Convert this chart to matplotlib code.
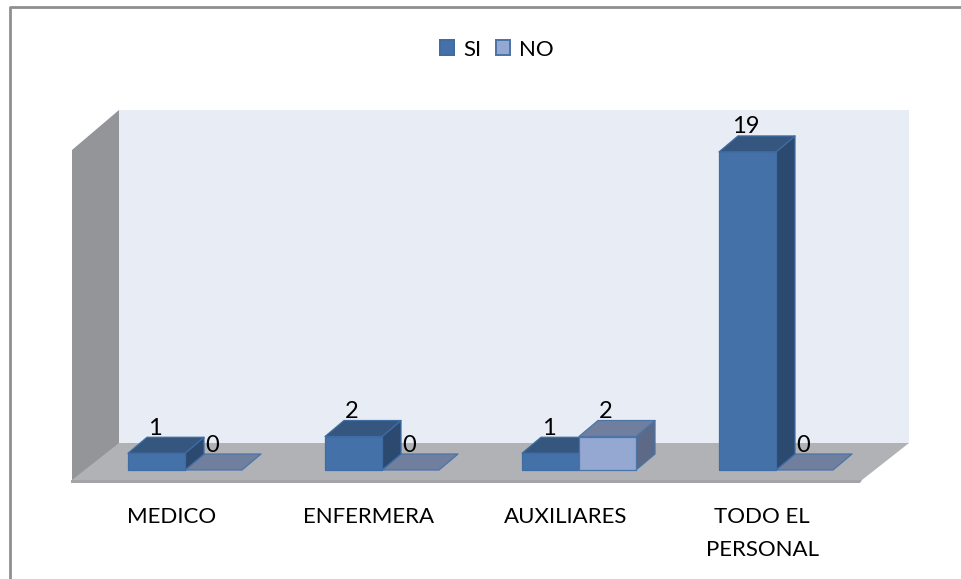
import matplotlib
matplotlib.use('Agg')
import matplotlib.pyplot as plt
from matplotlib.patches import Polygon

plt.rcParams['font.family'] = ['Lato', 'DejaVu Sans']

categorias = ['MEDICO', 'ENFERMERA', 'AUXILIARES', 'TODO EL\nPERSONAL']
si = [1, 2, 1, 19]
no = [0, 0, 2, 0]

W, H = 961, 579
# pixels of the front plane
X0, PASO, ANCHO = 185, 197, 57
Y0, UNIDAD = 470, 16.74
DX, DY = 19 / PASO, 16 / UNIDAD

fig = plt.figure(figsize=(W / 100, H / 100), dpi=100)
ax = fig.add_axes([0, 0, 1, 1])
ax.set_xlim(-X0 / PASO, (W - X0) / PASO)
ax.set_ylim((Y0 - H) / UNIDAD, Y0 / UNIDAD)
ax.axis('off')


def px(x, y):
    return ((x - X0) / PASO, (Y0 - y) / UNIDAD)


def fondo(puntos, color, z=1):
    ax.add_patch(Polygon([px(*p) for p in puntos], closed=True, fc=color, ec='none', zorder=z))


def barra(x, valor, frente, arriba, lado, borde, z):
    w = ANCHO / PASO
    cara = [(x, 0), (x + w, 0), (x + w, valor), (x, valor)]
    top = [(x, valor), (x + w, valor), (x + w + DX, valor + DY), (x + DX, valor + DY)]
    der = [(x + w, 0), (x + w + DX, DY), (x + w + DX, valor + DY), (x + w, valor)]
    for pts, c in ((der, lado), (top, arriba), (cara, frente)):
        if valor == 0 and pts is not top:
            continue
        ax.add_patch(Polygon(pts, closed=True, fc=c, ec=borde, lw=0.9, joinstyle='round', zorder=z))


def etiqueta(x, valor):
    ax.text(x + 27 / PASO, valor + 18.5 / UNIDAD, str(valor), ha='center', va='baseline',
            fontsize=17, color='black', zorder=20)


# borde del grafico
ax.plot(*zip(px(10, 579), px(10, 7), px(961, 7)), color='#8f8f8f', lw=2, zorder=1)

# paredes y piso
fondo([(119, 110), (909, 110), (909, 444), (119, 444)], '#e8ecf5')
fondo([(72, 150), (119, 110), (119, 444), (72, 482)], '#949599')
fondo([(72, 480), (119, 443), (909, 443), (862, 480)], '#b0b2b6')
fondo([(71, 480), (862, 480), (860, 483), (71, 483)], '#a3a4a7')

for i in range(len(categorias)):
    barra(i - ANCHO / PASO, si[i], '#4471a8', '#34567f', '#2c4a70', '#3f6ca3', 3 + i)
    barra(i, no[i], '#95a8d2', '#717f9f', '#5c6a88', '#4b74a8', 3 + i if no[i] else 2)
    etiqueta(i - ANCHO / PASO, si[i])
    etiqueta(i, no[i])
    ax.text(i - 0.07, px(0, 507)[1], categorias[i], ha='center', va='top', fontsize=16,
            color='black', linespacing=1.8, zorder=20)

# leyenda
for x, c, b, t in ((439, '#4471a8', '#3f6ca3', 'SI'), (495, '#95a8d2', '#4b74a8', 'NO')):
    fondo([(x, 39), (x + 16, 39), (x + 16, 56), (x, 56)], b, 5)
    fondo([(x + 2, 41), (x + 14, 41), (x + 14, 54), (x + 2, 54)], c, 6)
    tx, ty = px(x + 24, 50)
    ax.text(tx, ty, t, ha='left', va='center', fontsize=16, color='black')

fig.savefig('out.png', dpi=100)
